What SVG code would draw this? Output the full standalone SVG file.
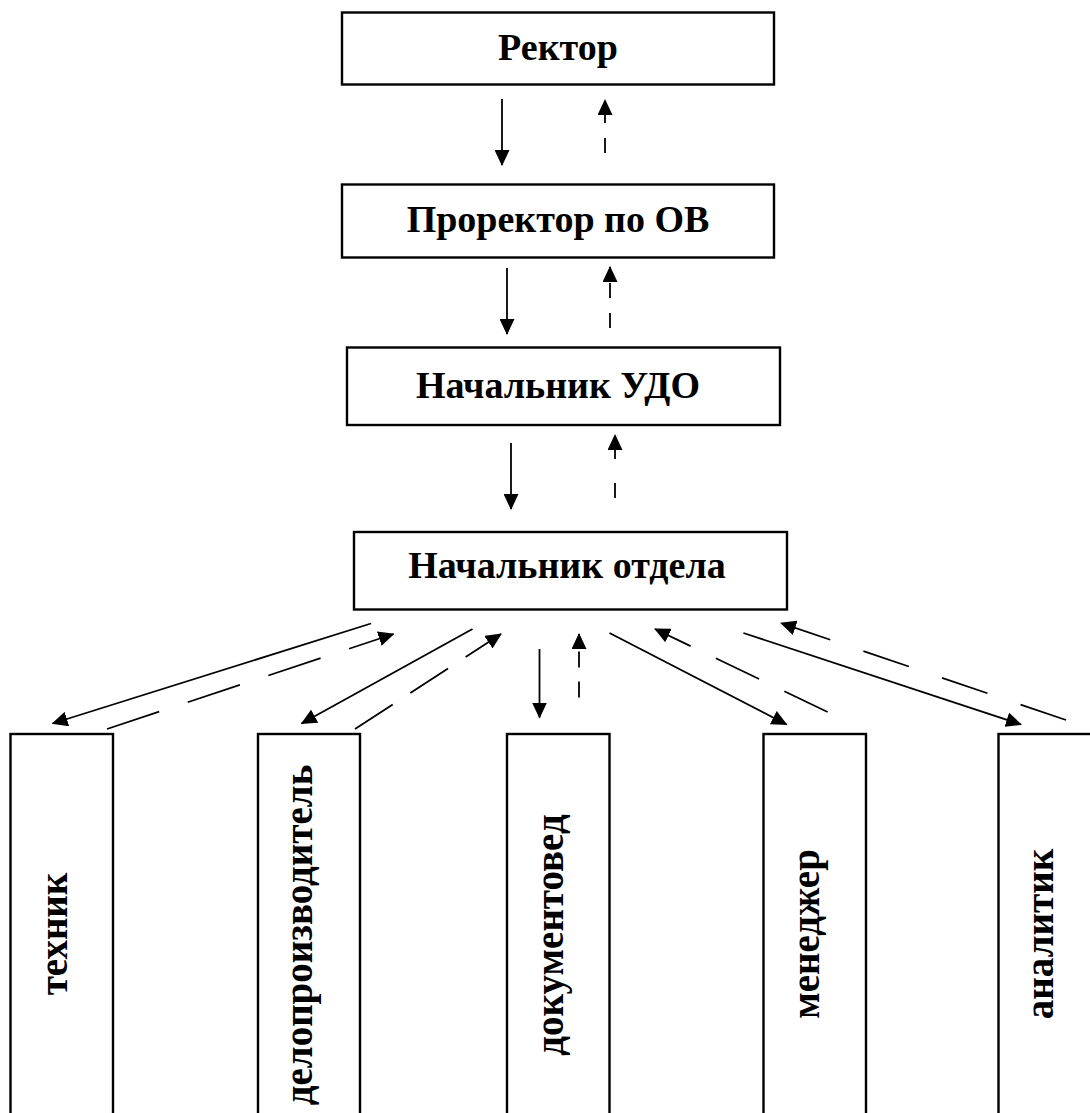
<svg xmlns="http://www.w3.org/2000/svg" width="1090" height="1113" viewBox="0 0 1090 1113">
<style>
.box{fill:#fff;stroke:#000;stroke-width:2.4}
.t{font-family:"Liberation Serif","Times New Roman",serif;font-weight:bold;font-size:38px;fill:#000;text-anchor:middle}
.v{font-size:39px}
.ln{fill:none;stroke:#000;stroke-width:1.8;marker-end:url(#ah)}
</style>
<defs>
<marker id="ah" markerUnits="userSpaceOnUse" markerWidth="16" markerHeight="15" refX="15" refY="7.5" orient="auto" viewBox="0 0 16 15">
<path d="M0,0 L16,7.5 L0,15 z" fill="#000"/>
</marker>
</defs>
<rect width="1090" height="1113" fill="#fff"/>
<g id="rector"><rect class="box" x="342" y="12.5" width="432" height="72"/><text class="t" x="558" y="60">Ректор</text></g>
<g id="prorector"><rect class="box" x="342" y="184.5" width="432" height="73"/><text class="t" x="558" y="232">Проректор по ОВ</text></g>
<g id="udo"><rect class="box" x="347" y="347.5" width="433" height="77.5"/><text class="t" x="558" y="398">Начальник УДО</text></g>
<g id="otdel"><rect class="box" x="354" y="532" width="433" height="77.5"/><text class="t" x="567" y="578">Начальник отдела</text></g>
<g id="tehnik"><rect class="box" x="10.5" y="734" width="102.5" height="400"/><text class="t v" transform="translate(67,934) rotate(-90)">техник</text></g>
<g id="deloproizvoditel"><rect class="box" x="258" y="734" width="102" height="400"/><text class="t v" transform="translate(311.5,935) rotate(-90)">делопроизводитель</text></g>
<g id="dokumentoved"><rect class="box" x="507" y="734" width="102.5" height="400"/><text class="t v" transform="translate(563,935) rotate(-90)">документовед</text></g>
<g id="menedzher"><rect class="box" x="763.5" y="734" width="102.5" height="400"/><text class="t v" transform="translate(819,934) rotate(-90)">менеджер</text></g>
<g id="analitik"><rect class="box" x="998.5" y="734" width="102.5" height="400"/><text class="t v" transform="translate(1053,934) rotate(-90)">аналитик</text></g>
<g id="connectors">
<line class="ln" x1="502" y1="99" x2="502" y2="165"/>
<line class="ln" x1="605" y1="153" x2="605" y2="100" stroke-dasharray="15 15"/>
<line class="ln" x1="507" y1="268" x2="507" y2="334"/>
<line class="ln" x1="610" y1="328" x2="610" y2="267" stroke-dasharray="15 15"/>
<line class="ln" x1="511" y1="443" x2="511" y2="509"/>
<line class="ln" x1="615" y1="498" x2="615" y2="435" stroke-dasharray="15 24"/>
<line class="ln" x1="371" y1="623.5" x2="52.6" y2="723.5"/>
<line class="ln" x1="107" y1="729" x2="393.5" y2="634" stroke-dasharray="55 30"/>
<line class="ln" x1="472.5" y1="629" x2="301.6" y2="723.5"/>
<line class="ln" x1="355" y1="729" x2="501" y2="634" stroke-dasharray="45 21"/>
<line class="ln" x1="539.5" y1="649" x2="539.5" y2="717.5"/>
<line class="ln" x1="579" y1="697.5" x2="579" y2="634" stroke-dasharray="16 14"/>
<line class="ln" x1="609.5" y1="633" x2="786.6" y2="724.5"/>
<line class="ln" x1="827.6" y1="712" x2="655" y2="629" stroke-dasharray="48 28"/>
<line class="ln" x1="743.4" y1="633" x2="1021" y2="724.5"/>
<line class="ln" x1="1066" y1="720" x2="781" y2="623" stroke-dasharray="48 35"/>
</g>
</svg>
